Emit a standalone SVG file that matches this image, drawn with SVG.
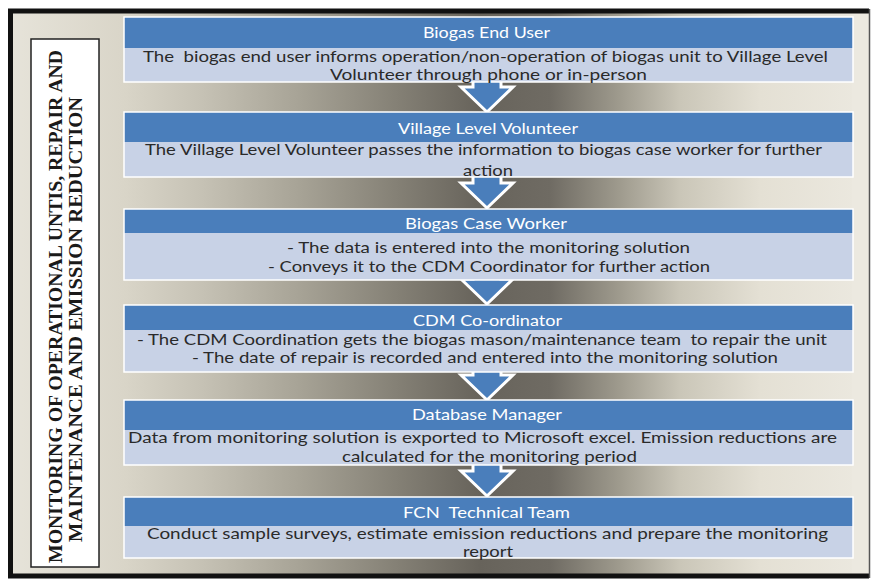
<svg xmlns="http://www.w3.org/2000/svg" xmlns:xlink="http://www.w3.org/1999/xlink" width="873" height="581" viewBox="0 0 873 581">
<style>
.hdr{fill:#4A7EBB}
.bdy{fill:#C8D2E6}
.edge{fill:none;stroke:#FFFFFF;stroke-width:1.5}
.ht{font-family:Lato,"Liberation Sans",sans-serif;font-size:16px;fill:#FFFFFF;text-anchor:middle;white-space:pre}
.bt{font-family:Lato,"Liberation Sans",sans-serif;font-size:16px;fill:#2A2A2A;text-anchor:middle;white-space:pre}
.lt{font-family:"Liberation Serif","Times New Roman",serif;font-size:19.5px;font-weight:bold;fill:#1A1A1A;text-anchor:middle}
.arrow{fill:#4A7EBB;stroke:#FFFFFF;stroke-width:3;stroke-linejoin:miter}
</style>
<defs>
<linearGradient id="bg" gradientUnits="userSpaceOnUse" x1="13" y1="0" x2="868" y2="0">
<stop offset="0" stop-color="#E6E3D9"/>
<stop offset="0.13" stop-color="#D9D5C8"/>
<stop offset="0.22" stop-color="#C6C2B5"/>
<stop offset="0.335" stop-color="#A7A396"/>
<stop offset="0.45" stop-color="#848075"/>
<stop offset="0.546" stop-color="#67635B"/>
<stop offset="0.628" stop-color="#6F6B63"/>
<stop offset="0.71" stop-color="#9F9B8E"/>
<stop offset="0.78" stop-color="#CAC6B8"/>
<stop offset="0.874" stop-color="#E4E0D4"/>
<stop offset="1" stop-color="#ECE9E0"/>
</linearGradient>
<path id="arr" d="M -14 -42 H 14 V -25 H 26 L 0 0 L -26 -25 H -14 Z"/>
</defs>

<rect x="0" y="0" width="873" height="581" fill="#FFFFFF"/>
<g id="frame">
<rect x="13" y="13" width="856" height="561" fill="url(#bg)"/>
<rect x="852" y="13" width="17" height="561" fill="#ECE9E0"/>
<path d="M 869 11 H 10.5 V 576 H 869" fill="none" stroke="#111111" stroke-width="5"/>
<line x1="869.5" y1="9" x2="869.5" y2="578" stroke="#555555" stroke-width="1.5"/>
</g>

<g id="label">
<rect x="31" y="39" width="68" height="528" fill="#FFFFFF" stroke="#222222" stroke-width="1.5"/>
<text class="lt" transform="translate(62,306.5) rotate(-90)" textLength="513" lengthAdjust="spacingAndGlyphs">MONITORING OF OPERATIONAL UNTIS, REPAIR AND</text>
<text class="lt" transform="translate(82,319.5) rotate(-90)" textLength="445" lengthAdjust="spacingAndGlyphs">MAINTENANCE AND EMISSION REDUCTION</text>
</g>

<g id="connectors">
<use xlink:href="#arr" href="#arr" class="arrow" x="487" y="112"/>
<use xlink:href="#arr" href="#arr" class="arrow" x="487" y="208"/>
<use xlink:href="#arr" href="#arr" class="arrow" x="487" y="304"/>
<use xlink:href="#arr" href="#arr" class="arrow" x="487" y="400"/>
<use xlink:href="#arr" href="#arr" class="arrow" x="487" y="496"/>
</g>

<g id="biogas-end-user">
<rect class="hdr" x="124" y="17" width="729" height="31"/>
<rect class="bdy" x="124" y="48" width="729" height="34"/>
<rect class="edge" x="124" y="17" width="729" height="65"/>
<text class="ht" x="486.5" y="38" textLength="127" lengthAdjust="spacingAndGlyphs">Biogas End User</text>
<text class="bt" x="485.5" y="62" textLength="685" lengthAdjust="spacingAndGlyphs">The  biogas end user informs operation/non-operation of biogas unit to Village Level</text>
<text class="bt" x="488.5" y="80" textLength="317" lengthAdjust="spacingAndGlyphs">Volunteer through phone or in-person</text>
</g>

<g id="village-level-volunteer">
<rect class="hdr" x="124" y="112" width="729" height="30"/>
<rect class="bdy" x="124" y="142" width="729" height="35"/>
<rect class="edge" x="124" y="112" width="729" height="65"/>
<text class="ht" x="488" y="134" textLength="180" lengthAdjust="spacingAndGlyphs">Village Level Volunteer</text>
<text class="bt" x="483.5" y="155" textLength="677" lengthAdjust="spacingAndGlyphs">The Village Level Volunteer passes the information to biogas case worker for further</text>
<text class="bt" x="488" y="176" textLength="50" lengthAdjust="spacingAndGlyphs">action</text>
</g>

<g id="biogas-case-worker">
<rect class="hdr" x="124" y="209" width="729" height="24"/>
<rect class="bdy" x="124" y="233" width="729" height="47"/>
<rect class="edge" x="124" y="209" width="729" height="71"/>
<text class="ht" x="486" y="229" textLength="162" lengthAdjust="spacingAndGlyphs">Biogas Case Worker</text>
<text class="bt" x="488.5" y="253" textLength="403" lengthAdjust="spacingAndGlyphs">- The data is entered into the monitoring solution</text>
<text class="bt" x="489" y="272" textLength="442" lengthAdjust="spacingAndGlyphs">- Conveys it to the CDM Coordinator for further action</text>
</g>

<g id="cdm-coordinator">
<rect class="hdr" x="124" y="305" width="729" height="25"/>
<rect class="bdy" x="124" y="330" width="729" height="42"/>
<rect class="edge" x="124" y="305" width="729" height="67"/>
<text class="ht" x="487.5" y="326" textLength="149" lengthAdjust="spacingAndGlyphs">CDM Co-ordinator</text>
<text class="bt" x="482" y="345" textLength="690" lengthAdjust="spacingAndGlyphs">- The CDM Coordination gets the biogas mason/maintenance team  to repair the unit</text>
<text class="bt" x="485" y="363" textLength="586" lengthAdjust="spacingAndGlyphs">- The date of repair is recorded and entered into the monitoring solution</text>
</g>

<g id="database-manager">
<rect class="hdr" x="124" y="400" width="729" height="30"/>
<rect class="bdy" x="124" y="430" width="729" height="35"/>
<rect class="edge" x="124" y="400" width="729" height="65"/>
<text class="ht" x="487" y="420" textLength="150" lengthAdjust="spacingAndGlyphs">Database Manager</text>
<text class="bt" x="482.5" y="443" textLength="709" lengthAdjust="spacingAndGlyphs">Data from monitoring solution is exported to Microsoft excel. Emission reductions are</text>
<text class="bt" x="489.5" y="462" textLength="295" lengthAdjust="spacingAndGlyphs">calculated for the monitoring period</text>
</g>

<g id="fcn-technical-team">
<rect class="hdr" x="124" y="497" width="729" height="29"/>
<rect class="bdy" x="124" y="526" width="729" height="32"/>
<rect class="edge" x="124" y="497" width="729" height="61"/>
<text class="ht" x="486.5" y="518" textLength="167" lengthAdjust="spacingAndGlyphs">FCN  Technical Team</text>
<text class="bt" x="487.5" y="539" textLength="681" lengthAdjust="spacingAndGlyphs">Conduct sample surveys, estimate emission reductions and prepare the monitoring</text>
<text class="bt" x="488" y="557" textLength="50" lengthAdjust="spacingAndGlyphs">report</text>
</g>
</svg>
